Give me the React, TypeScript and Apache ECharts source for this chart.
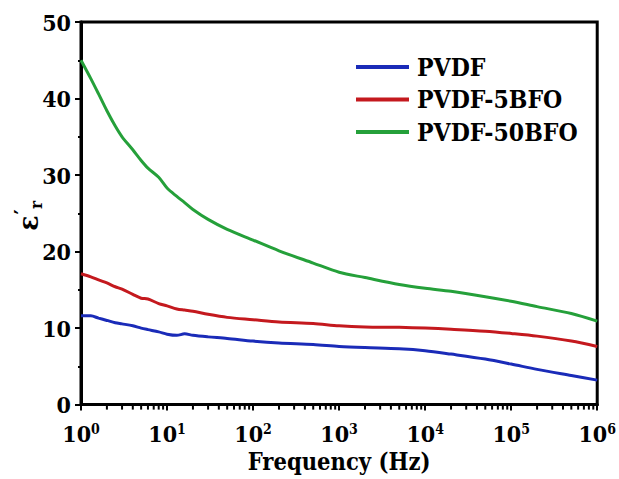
import React, { useEffect, useRef } from "react";
import * as echarts from "echarts";

const frequencies = [1, 1.3, 1.6, 2, 2.5, 3, 4, 5, 6, 8, 10, 13, 16, 20, 30, 50, 100, 200, 500, 1000, 2000, 5000, 1e4, 2e4, 5e4, 1e5, 2e5, 5e5, 1e6];
const pvdf = [11.6, 11.6, 11.3, 11.0, 10.7, 10.55, 10.3, 10.0, 9.8, 9.5, 9.2, 9.05, 9.25, 9.05, 8.85, 8.65, 8.3, 8.05, 7.85, 7.6, 7.45, 7.3, 7.05, 6.6, 5.95, 5.3, 4.6, 3.8, 3.2];
const pvdf5bfo = [17.1, 16.7, 16.3, 15.9, 15.4, 15.1, 14.4, 13.9, 13.8, 13.2, 12.9, 12.5, 12.35, 12.2, 11.8, 11.4, 11.1, 10.8, 10.6, 10.3, 10.15, 10.1, 10.0, 9.85, 9.6, 9.3, 8.95, 8.3, 7.6];
const pvdf50bfo = [45.0, 42.6, 40.6, 38.4, 36.4, 35.0, 33.3, 31.9, 30.9, 29.7, 28.3, 27.2, 26.4, 25.5, 24.2, 22.9, 21.5, 20.1, 18.5, 17.3, 16.6, 15.7, 15.2, 14.8, 14.1, 13.5, 12.8, 11.9, 10.9];
const seriesNames = ["PVDF", "PVDF-5BFO", "PVDF-50BFO"];
const seriesColors = ["#1a2bb8", "#c4191e", "#25a03a"];
const decades = [1, 10, 100, 1000, 10000, 100000];
const minorMultipliers = [2, 3, 4, 5, 6, 7, 8, 9];

const FONT = "DejaVu Serif Condensed, DejaVu Serif";

export default function App() {
  const ref = useRef<HTMLDivElement>(null);
  useEffect(() => {
    if (!ref.current) return;
    const chart = echarts.init(ref.current, undefined, { renderer: "svg" });
    const minorTickValues: number[] = [];
    decades.forEach((d) => minorMultipliers.forEach((m) => minorTickValues.push(d * m)));
    const allSeries = [pvdf, pvdf5bfo, pvdf50bfo];
    chart.setOption({
      animation: false,
      backgroundColor: "#ffffff",
      grid: { left: 81, right: 19, top: 22, bottom: 69, show: true, borderColor: "#000", borderWidth: 3, backgroundColor: "transparent" },
      legend: {
        show: true,
        data: seriesNames.map((n) => ({ name: n, icon: "rect" })),
        orient: "vertical",
        left: 351,
        top: 49,
        itemWidth: 53,
        itemHeight: 4,
        itemGap: 6.5,
        textStyle: { fontFamily: FONT, fontWeight: "bold", fontSize: 24.5, color: "#000", lineHeight: 26, padding: [0, 0, 0, 3] },
      },
      xAxis: {
        type: "log",
        logBase: 10,
        min: 1,
        max: 1e6,
        name: "Frequency (Hz)",
        nameLocation: "middle",
        nameGap: 44,
        nameTextStyle: { fontFamily: FONT, fontWeight: "bold", fontSize: 23.5, color: "#000" },
        axisLine: { show: true, lineStyle: { color: "#000", width: 3 } },
        axisTick: { show: true, length: 6, lineStyle: { color: "#000", width: 2 } },
        splitLine: { show: false },
        axisLabel: {
          margin: 17,
          formatter: (v: number) => `{b|10}{s|${Math.round(Math.log10(v))}}`,
          rich: {
            b: { fontFamily: FONT, fontWeight: "bold", fontSize: 23, color: "#000" },
            s: { fontFamily: FONT, fontWeight: "bold", fontSize: 14, color: "#000", verticalAlign: "top", padding: [0, 0, 10, 0] },
          },
        },
      },
      yAxis: {
        type: "value",
        min: 0,
        max: 50,
        interval: 10,
        axisLine: { show: true, lineStyle: { color: "#000", width: 3 } },
        axisTick: { show: true, length: 6, lineStyle: { color: "#000", width: 2 } },
        minorTick: { show: true, splitNumber: 2, length: 3, lineStyle: { color: "#000", width: 2 } },
        splitLine: { show: false },
        axisLabel: { margin: 10, fontFamily: FONT, fontWeight: "bold", fontSize: 23, color: "#000" },
      },
      graphic: [
        {
          type: "group",
          x: 28,
          y: 213,
          rotation: Math.PI / 2,
          children: [
            { type: "text", x: -10, y: 0, style: { text: "ε", font: `bold 28px ${FONT}`, fill: "#000", textAlign: "center", textVerticalAlign: "middle" } },
            { type: "text", x: 1, y: -6, style: { text: "′", font: `bold 22px ${FONT}`, fill: "#000", textAlign: "center", textVerticalAlign: "middle" } },
            { type: "text", x: 8, y: 8, style: { text: "r", font: `bold 17px ${FONT}`, fill: "#000", textAlign: "center", textVerticalAlign: "middle" } },
          ],
        },
      ],
      series: [
        ...allSeries.map((vals, i) => ({
          name: seriesNames[i],
          type: "line",
          data: frequencies.map((f, j) => [f, vals[j]]),
          showSymbol: false,
          symbol: "none",
          smooth: 0.3,
          lineStyle: { color: seriesColors[i], width: 3 },
          itemStyle: { color: seriesColors[i] },
        })),
        {
          type: "custom",
          name: "minorTicks",
          silent: true,
          clip: false,
          data: minorTickValues.map((v) => [v, 0]),
          renderItem: (_params: any, api: any) => {
            const p = api.coord([api.value(0), 0]);
            return { type: "line", shape: { x1: p[0], y1: p[1], x2: p[0], y2: p[1] + 5 }, style: { stroke: "#000", lineWidth: 2 } };
          },
        },
      ],
    });
    return () => chart.dispose();
  }, []);
  return <div ref={ref} style={{ position: "absolute", left: 0, top: 0, width: 619, height: 479 }} />;
}
